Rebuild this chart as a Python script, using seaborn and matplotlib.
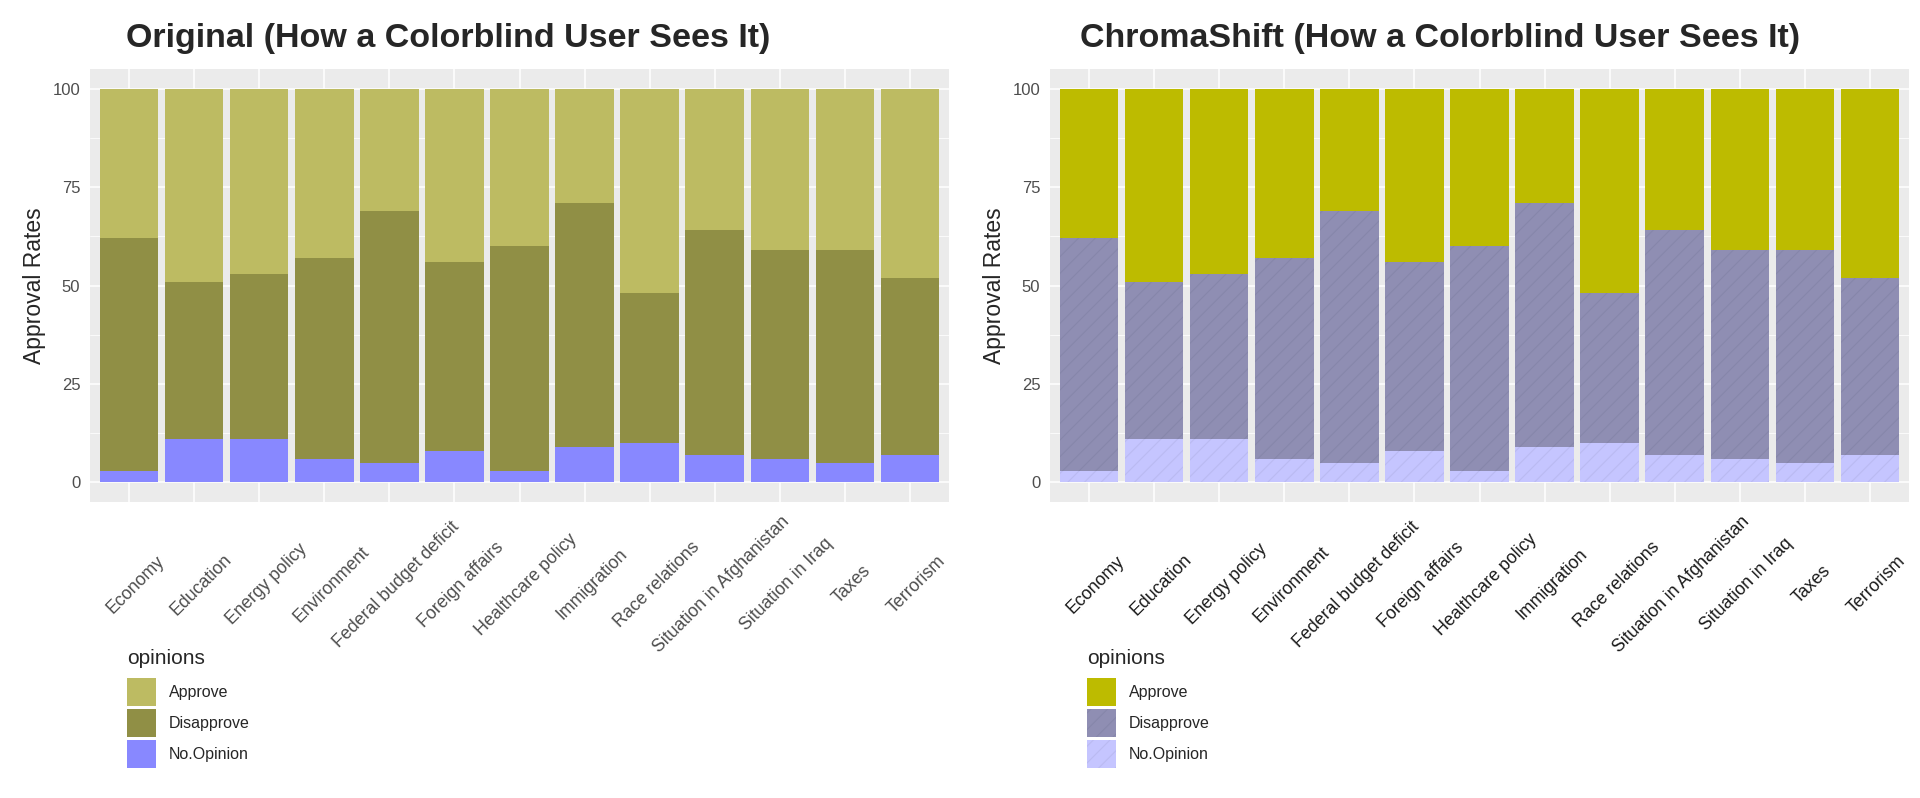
import numpy as np
import pandas as pd
import seaborn as sns
import matplotlib.pyplot as plt
from matplotlib.patches import Patch
from matplotlib.ticker import MultipleLocator
from matplotlib.transforms import ScaledTranslation

topics = ["Economy", "Education", "Energy policy", "Environment",
          "Federal budget deficit", "Foreign affairs", "Healthcare policy",
          "Immigration", "Race relations", "Situation in Afghanistan",
          "Situation in Iraq", "Taxes", "Terrorism"]
approve = [38, 49, 47, 43, 31, 44, 40, 29, 52, 36, 41, 41, 48]
disapprove = [59, 40, 42, 51, 64, 48, 57, 62, 38, 57, 53, 54, 45]
no_opinion = [3, 11, 11, 6, 5, 8, 3, 9, 10, 7, 6, 5, 7]
opinions = ["Approve", "Disapprove", "No.Opinion"]

titles = ["Original (How a Colorblind User Sees It)",
          "ChromaShift (How a Colorblind User Sees It)"]
palettes = [["#BDBB62", "#908F45", "#8888FF"],
            ["#BDBB00", "#8F8EB3", "#C5C5FF"]]
hatches = [[None, None, None],
           [None, "//", "//"]]
hatch_cols = [[None, None, None],
              [None, "#8686AA", "#BABAF2"]]

# long table, stacked from the bottom (No.Opinion) upwards
df = pd.DataFrame({"topic": topics * 3,
                   "opinion": np.repeat(opinions, len(topics)),
                   "value": approve + disapprove + no_opinion})
df["order"] = df["opinion"].map({o: i for i, o in enumerate(opinions[::-1])})
df = df.sort_values(["topic", "order"])
df["top"] = df.groupby("topic")["value"].cumsum()

sns.set_style("darkgrid", rc={"axes.facecolor": "#EBEBEB", "grid.color": "white"})
plt.rcParams["font.family"] = ["Liberation Sans", "DejaVu Sans"]
plt.rcParams["hatch.linewidth"] = 0.8

fig = plt.figure(figsize=(19.2, 7.98), dpi=100)
W, H = 1920, 798

for k in range(2):
    x0 = 90 + 960 * k
    ax = fig.add_axes([x0 / W, 1 - 502 / H, 859 / W, 433 / H])
    cols = palettes[k]
    for i, op in enumerate(opinions):
        sub = df[df["opinion"] == op].set_index("topic").loc[topics]
        if hatches[k][i]:
            kw = dict(hatch=hatches[k][i], edgecolor=hatch_cols[k][i], linewidth=0)
        else:
            kw = dict(linewidth=0)
        sns.barplot(x=topics, y=sub["top"].values, color=cols[i], width=0.9,
                    saturation=1, errorbar=None, ax=ax, **kw)

    ax.set_xlim(-0.6, len(topics) - 0.4)
    ax.set_ylim(-5, 105)
    ax.set_axisbelow(True)
    ax.yaxis.set_major_locator(MultipleLocator(25))
    ax.yaxis.set_minor_locator(MultipleLocator(12.5))
    ax.grid(True, which="major", color="white", lw=1.1)
    ax.grid(True, which="minor", axis="y", color="white", lw=0.55)
    for s in ax.spines.values():
        s.set_visible(False)
    ax.tick_params(axis="both", which="major", length=3.5, width=1, color="#333333")
    ax.tick_params(axis="y", which="minor", length=0)
    ax.tick_params(axis="y", labelsize=12, labelcolor="#4D4D4D", pad=3.5)
    ax.set_yticks([0, 25, 50, 75, 100])
    ax.set_yticklabels(["0", "25", "50", "75", "100"])
    ax.set_xticks(range(len(topics)))
    ax.set_xticklabels(topics, rotation=45, ha="center", va="center",
                       rotation_mode="anchor", fontsize=12.8,
                       color="#4D4D4D" if k == 0 else "#1A1A1A")
    ax.tick_params(axis="x", pad=56)
    off = ScaledTranslation(7 / 100, 0, fig.dpi_scale_trans)
    for lab in ax.get_xticklabels():
        lab.set_transform(lab.get_transform() + off)
    ax.set_xlabel("")
    ax.set_ylabel("Approval Rates", fontsize=16.5)
    ax.yaxis.set_label_coords(-44 / 859, 0.5)

    fig.text((448 + 992 * k) / W, 1 - 39 / H, titles[k], ha="center", va="center",
             fontsize=24.5, fontweight="bold")

    # legend: title as text, keys below it
    fig.text((127 + 960 * k) / W, 1 - 658 / H, "opinions", ha="left", va="center",
             fontsize=15)
    handles = []
    for i, op in enumerate(opinions):
        if hatches[k][i]:
            handles.append(Patch(facecolor=cols[i], hatch=hatches[k][i],
                                 edgecolor=hatch_cols[k][i], linewidth=0, label=op))
        else:
            handles.append(Patch(facecolor=cols[i], linewidth=0, label=op))
    fig.legend(handles=handles, loc="upper left",
               bbox_to_anchor=((127 + 960 * k) / W, 1 - 678 / H),
               frameon=False, borderpad=0, borderaxespad=0, fontsize=11.5,
               handlelength=1.82, handleheight=2.32, labelspacing=0.2,
               handletextpad=0.8)

fig.savefig("out.png", dpi=100, facecolor="white")
